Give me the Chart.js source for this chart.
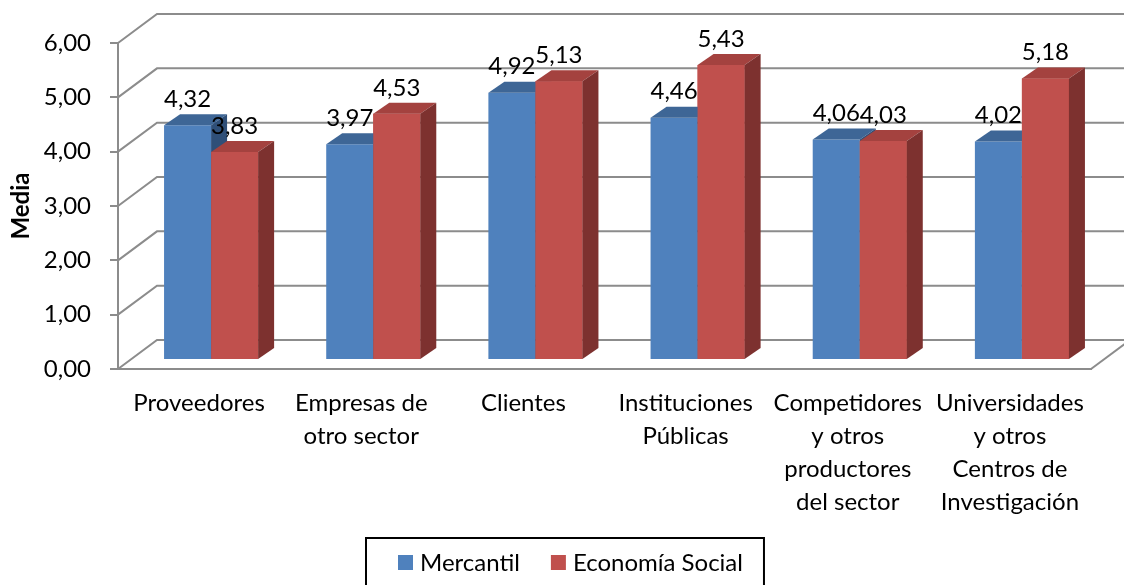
<!DOCTYPE html>
<html>
<head>
<meta charset="utf-8">
<script src="https://cdn.jsdelivr.net/npm/chart.js@4.4.0/dist/chart.umd.min.js"></script>
<style>
  html, body { margin: 0; padding: 0; background: #fff; }
</style>
</head>
<body>
<canvas id="myChart" width="1124" height="585"></canvas>
<script>
// Datos
const categories = [
  'Proveedores',
  ['Empresas de', 'otro sector'],
  'Clientes',
  ['Instituciones', 'Públicas'],
  ['Competidores', 'y otros', 'productores', 'del sector'],
  ['Universidades', 'y otros', 'Centros de', 'Investigación']
];
const seriesNames = ['Mercantil', 'Economía Social'];
const mercantil = [4.32, 3.97, 4.92, 4.46, 4.06, 4.02];
const economiaSocial = [3.83, 4.53, 5.13, 5.43, 4.03, 5.18];
const yTicks = [0, 1, 2, 3, 4, 5, 6];

// Estilo
const FONT = 'Lato, "Open Sans", sans-serif';
const FONT_SIZE = 24;
const GRID = '#8c8c8c';
const BLUE = '#4f81bd', BLUE_TOP = '#3e6696', BLUE_SIDE = '#2f4f78';
const RED = '#c0504d', RED_TOP = '#a4423f', RED_SIDE = '#7d312f';
const WALL_DX = 39, WALL_DY = -29;   // profundidad del fondo
const SHIFT_X = 12, SHIFT_Y = -9;    // las barras quedan a media profundidad
const BAR_DX = 16, BAR_DY = -11;     // profundidad de cada barra

const fmt = v => v.toFixed(2).replace('.', ',');

function drawExtrusion(ctx, bar, topColor, sideColor) {
  const l = bar.x - bar.width / 2, r = bar.x + bar.width / 2;
  const t = bar.y, b = bar.base;
  ctx.fillStyle = topColor;
  ctx.beginPath();
  ctx.moveTo(l, t);
  ctx.lineTo(l + BAR_DX, t + BAR_DY);
  ctx.lineTo(r + BAR_DX, t + BAR_DY);
  ctx.lineTo(r, t);
  ctx.closePath();
  ctx.fill();
  ctx.fillStyle = sideColor;
  ctx.beginPath();
  ctx.moveTo(r, t);
  ctx.lineTo(r + BAR_DX, t + BAR_DY);
  ctx.lineTo(r + BAR_DX, b + BAR_DY);
  ctx.lineTo(r, b);
  ctx.closePath();
  ctx.fill();
}

const depth3d = {
  id: 'depth3d',
  beforeDatasetsDraw(chart) {
    const { ctx, chartArea, scales } = chart;
    ctx.save();
    ctx.strokeStyle = GRID;
    ctx.lineWidth = 2;
    yTicks.forEach(v => {
      const py = scales.y.getPixelForValue(v);
      ctx.beginPath();
      ctx.moveTo(chartArea.left, py);
      ctx.lineTo(chartArea.left + WALL_DX, py + WALL_DY);
      ctx.lineTo(chartArea.right + WALL_DX, py + WALL_DY);
      ctx.stroke();
    });
    const base = scales.y.getPixelForValue(0);
    ctx.beginPath();
    ctx.moveTo(chartArea.right, base);
    ctx.lineTo(chartArea.right + WALL_DX, base + WALL_DY);
    ctx.stroke();
    ctx.restore();

    ctx.save();
    ctx.translate(SHIFT_X, SHIFT_Y);
  },
  afterDatasetsDraw(chart) {
    const ctx = chart.ctx;
    const blueBars = chart.getDatasetMeta(0).data;
    const redBars = chart.getDatasetMeta(1).data;
    blueBars.forEach(bar => drawExtrusion(ctx, bar, BLUE_TOP, BLUE_SIDE));
    // la barra roja va delante del lateral azul
    redBars.forEach(bar => bar.draw(ctx));
    redBars.forEach(bar => drawExtrusion(ctx, bar, RED_TOP, RED_SIDE));

    // etiquetas de valor
    ctx.font = FONT_SIZE + 'px ' + FONT;
    ctx.fillStyle = '#000';
    ctx.textAlign = 'center';
    ctx.textBaseline = 'middle';
    [blueBars, redBars].forEach((bars, i) => {
      const values = chart.data.datasets[i].data;
      bars.forEach((bar, j) => ctx.fillText(fmt(values[j]), bar.x, bar.y - 26));
    });
    ctx.restore();
  },
  afterDraw(chart) {
    // leyenda con marco
    const ctx = chart.ctx;
    ctx.save();
    ctx.font = FONT_SIZE + 'px ' + FONT;
    const items = chart.data.datasets.map(ds => ({
      label: ds.label, color: ds.backgroundColor, w: ctx.measureText(ds.label).width
    }));
    const box = 15, gap = 7, itemGap = 31, padL = 32, padR = 21;
    let total = padL + padR;
    items.forEach((it, i) => { total += box + gap + it.w + (i ? itemGap : 0); });
    const left = Math.round(chart.width / 2 - total / 2 + 3);
    const top = chart.height - 47;
    ctx.strokeStyle = '#000';
    ctx.lineWidth = 2;
    ctx.strokeRect(left, top, total, 70);
    const cy = top + 25;
    let x = left + padL;
    ctx.textAlign = 'left';
    ctx.textBaseline = 'middle';
    items.forEach(it => {
      ctx.fillStyle = it.color;
      ctx.fillRect(x, cy - 8, box, box);
      x += box + gap;
      ctx.fillStyle = '#000';
      ctx.fillText(it.label, x, cy);
      x += it.w + itemGap;
    });
    ctx.restore();
  }
};

const chart = new Chart(document.getElementById('myChart'), {
  type: 'bar',
  data: {
    labels: categories,
    datasets: [
      { label: seriesNames[0], data: mercantil, backgroundColor: BLUE },
      { label: seriesNames[1], data: economiaSocial, backgroundColor: RED }
    ]
  },
  options: {
    responsive: false,
    animation: false,
    events: [],
    layout: { padding: { top: 43, right: 33, bottom: 0, left: 0 } },
    datasets: { bar: { categoryPercentage: 0.58, barPercentage: 1, borderWidth: 0 } },
    plugins: { legend: { display: false }, tooltip: { enabled: false } },
    scales: {
      x: {
        afterFit(scale) { scale.height = 216; },
        grid: { drawOnChartArea: false, drawTicks: false },
        border: { color: GRID, width: 2 },
        ticks: {
          color: '#000',
          font: { family: FONT, size: FONT_SIZE, lineHeight: 33 / FONT_SIZE },
          padding: 18,
          maxRotation: 0,
          autoSkip: false
        }
      },
      y: {
        min: 0,
        max: 6,
        afterFit(scale) { scale.width = 118; },
        afterBuildTicks(scale) { scale.ticks = yTicks.map(v => ({ value: v })); },
        grid: { drawOnChartArea: false, color: GRID, lineWidth: 2, tickLength: 8 },
        border: { color: GRID, width: 2 },
        ticks: {
          color: '#000',
          font: { family: FONT, size: FONT_SIZE },
          padding: 19,
          callback: v => fmt(v)
        },
        title: {
          display: true,
          text: 'Media',
          color: '#000',
          font: { family: FONT, size: 24, weight: 'bold' },
          padding: { top: 7, bottom: 0 }
        }
      }
    }
  },
  plugins: [depth3d]
});
</script>
</body>
</html>
